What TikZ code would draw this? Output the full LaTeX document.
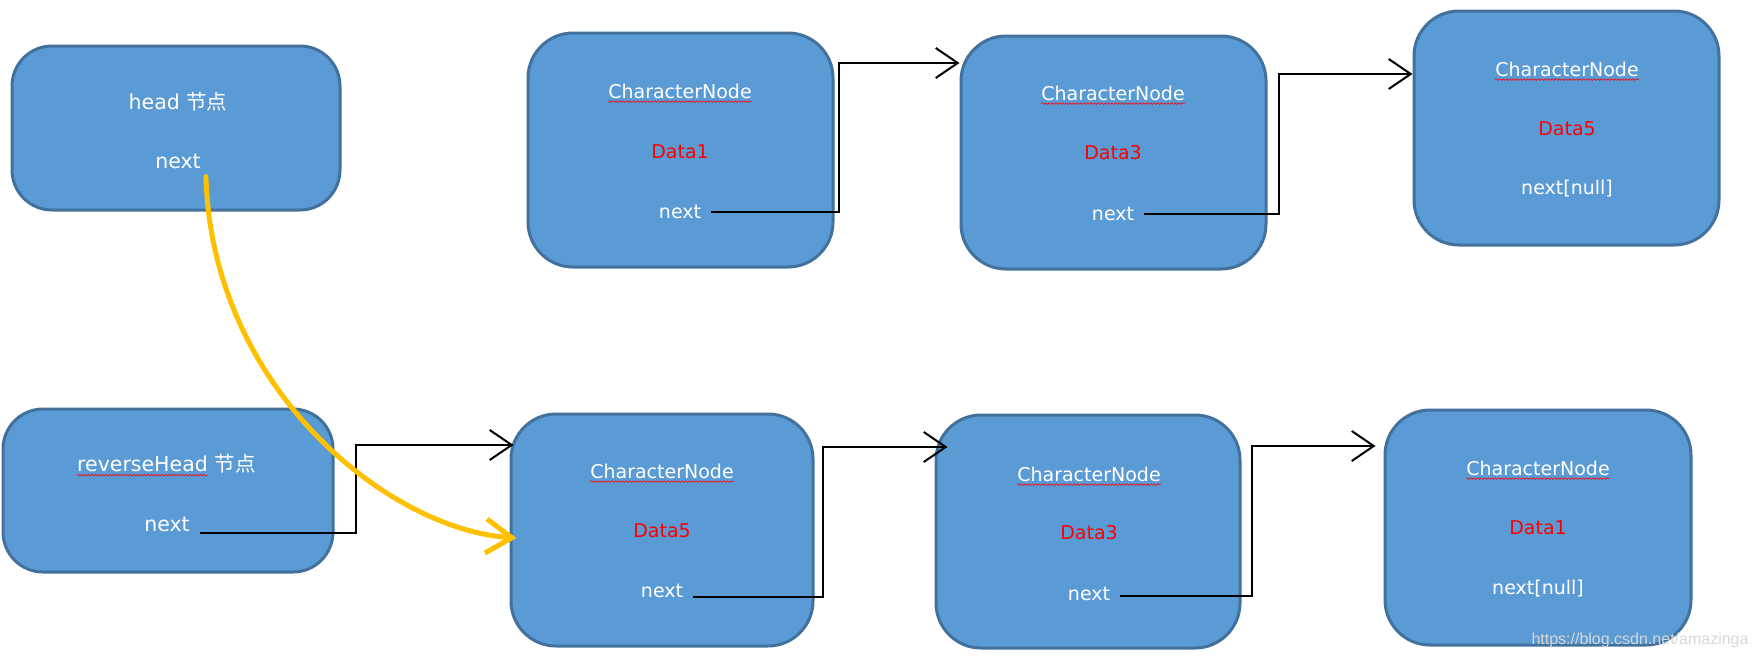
\documentclass[tikz,border=0pt]{standalone}
\usepackage{fontspec}
\setmainfont{DejaVu Sans}
\newfontfamily\cjk{Noto Sans CJK SC}
\newfontfamily\wmfont{Liberation Sans}
\usetikzlibrary{arrows.meta,calc,decorations.pathmorphing}
\definecolor{boxfill}{RGB}{91,155,213}
\definecolor{boxline}{RGB}{65,113,156}
\definecolor{datared}{RGB}{255,0,0}
\definecolor{ygold}{RGB}{255,192,0}
\definecolor{wmgray}{RGB}{215,215,215}
\begin{document}
\begin{tikzpicture}[x=1pt,y=-1pt,
  box/.style={draw=boxline,fill=boxfill,line width=3pt,rounded corners=#1,inner sep=0pt},
  box/.default=45pt,
  wt/.style={text=white,inner sep=0pt,font=\fontsize{19}{22}\selectfont},
  ht/.style={text=white,inner sep=0pt,font=\fontsize{20.5}{24}\selectfont},
  dt/.style={text=datared,inner sep=0pt,font=\fontsize{19}{22}\selectfont},
  conn/.style={draw=black,line width=2pt,-{Straight Barb[length=22pt,width=30pt]}},
  ylink/.style={draw=ygold,line width=5pt,line cap=round,-{Straight Barb[length=26pt,width=34pt]}},
  squig/.style={draw=red,line width=0.6pt,decorate,decoration={snake,amplitude=0.8pt,segment length=3.5pt}}
]
\useasboundingbox (0,0) rectangle (1756,659);
% boxes
\node[box=40pt,minimum width=328pt,minimum height=164pt] (head) at (176,128) {};
\node[box=40pt,minimum width=330pt,minimum height=163pt] (rhead) at (168,490.5) {};
\node[box,minimum width=305pt,minimum height=234pt] (t1) at (680.5,150) {};
\node[box,minimum width=305pt,minimum height=233pt] (t2) at (1113.5,152.5) {};
\node[box,minimum width=305pt,minimum height=234pt] (t3) at (1566.5,128) {};
\node[box,minimum width=302pt,minimum height=232pt] (b1) at (662,530) {};
\node[box,minimum width=304pt,minimum height=233pt] (b2) at (1088,531.5) {};
\node[box,minimum width=306pt,minimum height=235pt] (b3) at (1538,527.5) {};
% head texts
\node[ht] (htitle) at (178,102) {head {\cjk 节点}};
\node[ht] (hnext) at (178,161) {next};
\node[ht] (rhA) at (142.5,464) {reverseHead};
\node[ht,anchor=base west] (rhB) at ($(rhA.base east)+(6.5,0)$) {\cjk 节点};
\node[ht] (rnext) at (167,524) {next};
% top row texts
\node[wt] (t1c) at (680,91) {CharacterNode};
\node[dt] (t1d) at (680,152) {Data1};
\node[wt] (t1n) at (680,212) {next};
\node[wt] (t2c) at (1113,93) {CharacterNode};
\node[dt] (t2d) at (1113,153) {Data3};
\node[wt] (t2n) at (1113,214) {next};
\node[wt] (t3c) at (1567,69) {CharacterNode};
\node[dt] (t3d) at (1567,129) {Data5};
\node[wt] (t3n) at (1567,189) {next[null]};
% bottom row texts
\node[wt] (b1c) at (662,471) {CharacterNode};
\node[dt] (b1d) at (662,531) {Data5};
\node[wt] (b1n) at (662,591) {next};
\node[wt] (b2c) at (1089,474) {CharacterNode};
\node[dt] (b2d) at (1089,533) {Data3};
\node[wt] (b2n) at (1089,594) {next};
\node[wt] (b3c) at (1538,468) {CharacterNode};
\node[dt] (b3d) at (1538,528) {Data1};
\node[wt] (b3n) at (1538,589) {next[null]};
% spell-check squiggles
\foreach \n in {t1c,t2c,t3c,b1c,b2c,b3c,rhA}{
  \draw[squig] ($(\n.south west)+(0,3)$) -- ($(\n.south east)+(0,3)$);
}
% connectors
\draw[conn] ($(t1n.east)+(10,0)$) -| (839,63) -- (t2.west |- 0,63);
\draw[conn] ($(t2n.east)+(10,0)$) -| (1279,74) -- (t3.west |- 0,74);
\draw[conn] ($(rnext.east)+(10,9)$) -| (356,445) -- ($(b1.west |- 0,445)+(4,0)$);
\draw[conn] ($(b1n.east)+(10,6)$) -| (823,447) -- ($(b2.west |- 0,447)+(13,0)$);
\draw[conn] ($(b2n.east)+(10,2)$) -| (1252,446) -- ($(b3.west |- 0,446)+(-8,0)$);
% yellow link
\draw[ylink] ($(hnext.south east)+(5,8)$) .. controls (212,390) and (390,530) .. ($(b1.west)+(7,8)$);
% watermark
\node[text=wmgray,inner sep=0pt,font=\wmfont\fontsize{16}{18}\selectfont] (wm) at (1640,640) {https://blog.csdn.net/amazinga};
\end{tikzpicture}
\end{document}
